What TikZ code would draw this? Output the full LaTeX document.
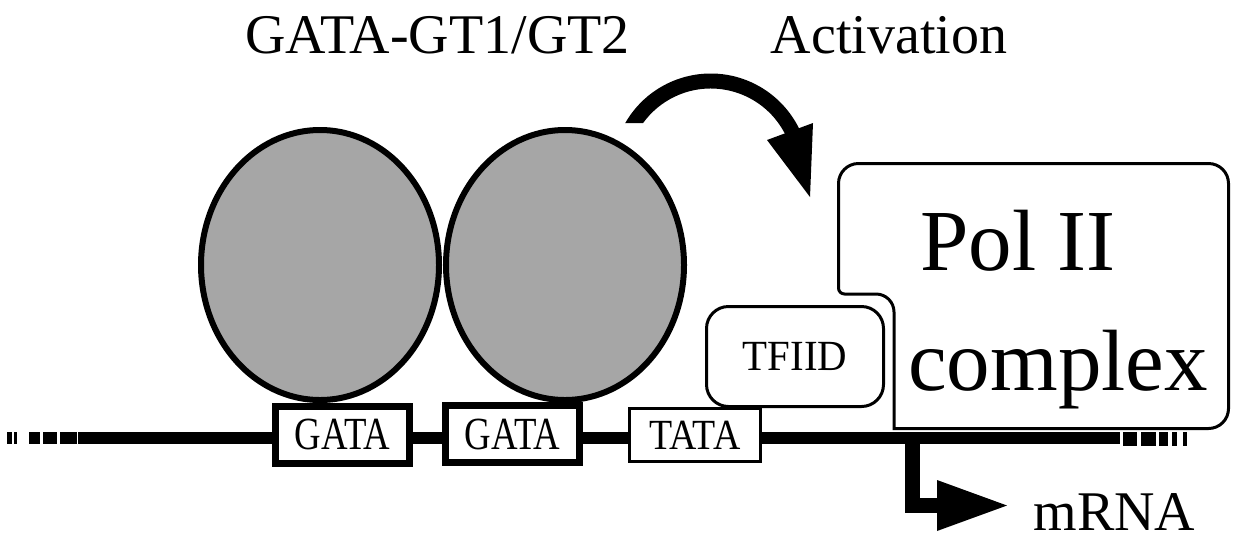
\documentclass[tikz,border=0pt]{standalone}
\usepackage{fontspec}
\setmainfont{Liberation Serif}
\usetikzlibrary{shapes.geometric}
\begin{document}
\begin{tikzpicture}[x=1pt,y=-1pt,
  lbl/.style={inner sep=0pt, anchor=base},
  bigtxt/.style={font=\fontsize{56}{56}\selectfont},
  poltxt/.style={font=\fontsize{87}{87}\selectfont},
  factor/.style={ellipse, draw, line width=6pt, fill=black!35, minimum width=238pt, minimum height=270pt, inner sep=0pt},
  gatabox/.style={rectangle, draw, fill=white, line width=7pt, minimum width=134pt, minimum height=57pt, inner sep=0pt, font=\fontsize{46}{46}\selectfont},
  tatabox/.style={rectangle, draw, fill=white, line width=3pt, minimum width=131pt, minimum height=53pt, inner sep=0pt, font=\fontsize{43}{43}\selectfont},
  tfbox/.style={rectangle, rounded corners=22pt, draw, fill=white, line width=3pt, minimum width=177pt, minimum height=100pt, inner sep=0pt, font=\fontsize{43}{43}\selectfont},
  dna/.style={line width=12pt},
  polline/.style={line width=3pt, fill=white},
  band/.style={line width=15pt}
]
\useasboundingbox (0,0) rectangle (1233,542);

% DNA
\coordinate (dnaL) at (78,438);
\coordinate (dnaR) at (1120,438);
\draw[dna] (dnaL) -- (dnaR);
\foreach \a/\b in {7/12,14/17,29/40,43/57,60/77}
  \draw[dna] (\a,438) -- (\b,438);
\foreach \a/\b in {1123/1137,1141/1156,1159/1168,1172/1177,1183/1187}
  \draw[line width=14pt] (\a,439) -- (\b,439);

% Pol II complex outline
\draw[polline] (894,430) [rounded corners=18pt] -- (894,294) [rounded corners=6pt] -- (838.5,294) [rounded corners=20pt] -- (838.5,163.5) -- (1228.5,163.5) -- (1228.5,428.5) [sharp corners] -- (892.5,428.5);
\node[lbl, poltxt] (pol) at (1018,270) {Pol II};
\node[lbl, poltxt] (cplx) at (1058,390) {complex};

% GATA factors
\node[factor] (f1) at (320,265) {};
\node[factor] (f2) at (565,265) {};

% boxes
\node[gatabox] (g1) at (342.5,434.5) {\scalebox{0.8}[1]{GATA}};
\node[gatabox] (g2) at (512.5,434) {\scalebox{0.8}[1]{GATA}};
\node[tatabox] (tata) at (695,435) {\scalebox{0.88}[1]{TATA}};
\node[tfbox] (tfiid) at (795,356.5) {\scalebox{0.95}[1]{TFIID}};

% labels
\node[lbl, bigtxt] (title) at (437.5,53) {GATA-GT1/GT2};
\node[lbl, bigtxt] (act) at (889,53) {Activation};
\node[lbl, bigtxt] (mrna) at (1114.5,530) {mRNA};

% Activation arrow
\coordinate (actC) at (710.7,172);
\coordinate (actTip) at (810,197);
\fill (actC) ++(-150.2:98.5) arc[start angle=-150.2, end angle=-26, radius=98.5] -- ++(-26:-15) arc[start angle=-26, end angle=-144.1, radius=83.5] -- cycle;
\fill (767,140) -- (813,123) -- (actTip) -- cycle;

% transcription start arrow
\coordinate (tss) at (912.5,440);
\coordinate (mrnaTip) at (1007,505.5);
\draw[band] (tss) |- (940,505.5);
\fill (937,480) -- (mrnaTip) -- (937,531) -- cycle;
\end{tikzpicture}
\end{document}
